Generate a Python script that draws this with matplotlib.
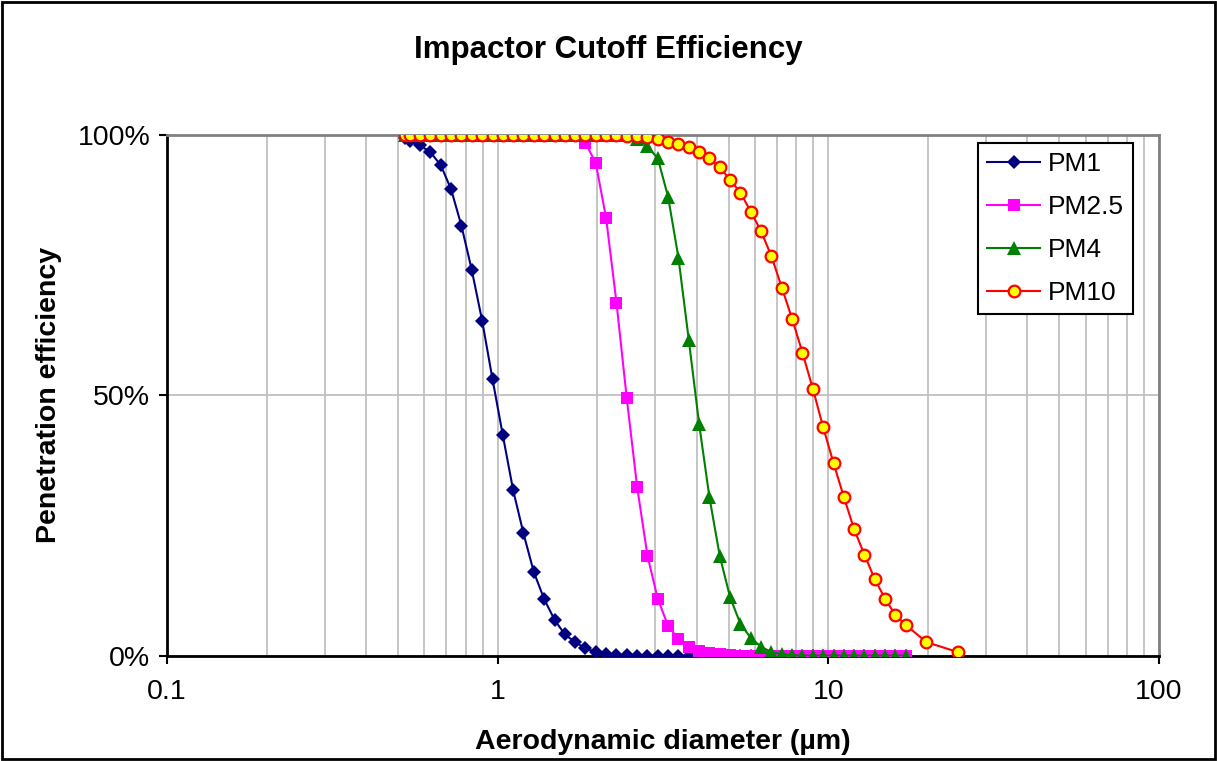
import numpy as np
import matplotlib
matplotlib.use('Agg')
from matplotlib import pyplot as plt
from matplotlib.ticker import PercentFormatter, LogLocator, NullFormatter
from matplotlib.patches import Rectangle

plt.rcParams['font.family'] = ['Liberation Sans', 'DejaVu Sans']

# diametros (canais do APS, um) comuns a todas as curvas
diam = [0.523, 0.542, 0.583, 0.626, 0.673, 0.723, 0.777, 0.835, 0.898, 0.965,
        1.037, 1.114, 1.197, 1.286, 1.382, 1.486, 1.596, 1.715, 1.843, 1.981,
        2.129, 2.288, 2.458, 2.642, 2.839, 3.051, 3.278, 3.523, 3.786, 4.068,
        4.371, 4.698, 5.048, 5.425, 5.829, 6.264, 6.732, 7.234, 7.774, 8.354,
        8.977, 9.647, 10.37, 11.14, 11.97, 12.86, 13.82, 14.86, 15.96, 17.15]

# o PM10 tem dois pontos a mais no fim
diam_pm10 = diam + [19.81, 24.6]

pm1 = [0.994, 0.988, 0.980, 0.967, 0.942, 0.896, 0.826, 0.741, 0.643, 0.531,
       0.423, 0.318, 0.235, 0.161, 0.109, 0.069, 0.041, 0.026, 0.014, 0.007,
       0.004, 0.002, 0.001] + [0.0] * 27

pm25 = [1.0] * 18 + [0.985, 0.946, 0.840, 0.678, 0.494, 0.324, 0.192, 0.109,
                     0.057, 0.032, 0.017, 0.009, 0.005, 0.003, 0.001] + [0.0] * 17

pm4 = [1.0] * 23 + [0.993, 0.978, 0.955, 0.881, 0.764, 0.606, 0.445, 0.304,
                    0.191, 0.112, 0.061, 0.034, 0.017, 0.007, 0.003, 0.001] + [0.0] * 11

pm10 = [1.0] * 22 + [0.999, 0.998, 0.996, 0.992, 0.986, 0.982, 0.976, 0.968,
                     0.955, 0.938, 0.914, 0.889, 0.853, 0.815, 0.767, 0.707,
                     0.647, 0.582, 0.513, 0.439, 0.370, 0.305, 0.243, 0.194,
                     0.147, 0.109, 0.078, 0.059, 0.026, 0.007]

labels = ['PM1', 'PM2.5', 'PM4', 'PM10']

fig = plt.figure(figsize=(12.17, 7.61), dpi=100)
ax = fig.add_axes([0.1372, 0.1384, 0.8151, 0.6842])

# curvas
ax.plot(diam, pm1, color='#000080', marker='D', markersize=7.4, lw=1.5,
        markeredgewidth=0, label=labels[0], zorder=3)
ax.plot(diam, pm25, color='#ff00ff', marker='s', markersize=8.4, lw=1.5,
        markeredgewidth=0, label=labels[1], zorder=4)
ax.plot(diam, pm4, color='#008000', marker='^', markersize=10.5, lw=1.5,
        markeredgewidth=0, label=labels[2], zorder=5)
ax.plot(diam_pm10, pm10, color='#ff0000', marker='o', markersize=8.4, lw=1.5,
        markerfacecolor='#ffff00', markeredgecolor='#ff0000',
        markeredgewidth=1.6, label=labels[3], zorder=6)

# eixos
ax.set_xscale('log')
ax.set_xlim(0.1, 100)
ax.set_ylim(0, 1)
ax.set_yticks([0, 0.5, 1])
ax.yaxis.set_major_formatter(PercentFormatter(1.0, decimals=0))
ax.set_xticks([0.1, 1, 10, 100])
ax.set_xticklabels(['0.1', '1', '10', '100'])
ax.xaxis.set_minor_locator(LogLocator(base=10, subs=np.arange(2, 10)))
ax.xaxis.set_minor_formatter(NullFormatter())
ax.tick_params(axis='both', which='major', direction='out', length=6,
               width=1.5, labelsize=20.5, color='black')
ax.tick_params(axis='x', which='major', pad=11)
ax.tick_params(axis='y', which='major', pad=6)
ax.tick_params(axis='x', which='minor', length=0)

# grade
ax.grid(True, which='both', axis='x', color='#c0c0c0', lw=1.3, zorder=0)
ax.grid(True, which='major', axis='y', color='#c0c0c0', lw=1.3, zorder=0)
ax.set_axisbelow(True)

for s in ['left', 'bottom']:
    ax.spines[s].set_color('black')
    ax.spines[s].set_linewidth(2)
for s in ['top', 'right']:
    ax.spines[s].set_color('#808080')
    ax.spines[s].set_linewidth(2)

ax.set_xlabel('Aerodynamic diameter (µm)', fontsize=20.5, fontweight='bold', labelpad=17)
ax.set_ylabel('Penetration efficiency', fontsize=20.5, fontweight='bold', labelpad=11)
fig.text(0.5, 0.934, 'Impactor Cutoff Efficiency', ha='center', va='center',
         fontsize=22.5, fontweight='bold')

leg = ax.legend(loc='upper right', bbox_to_anchor=(0.974, 0.985), borderaxespad=0,
                fontsize=19, fancybox=False, framealpha=1, edgecolor='black',
                handlelength=2.0, labelspacing=0.72, borderpad=0.35, handletextpad=0.3)
leg.get_frame().set_linewidth(1.5)

# borda da figura
fig.patches.append(Rectangle((0.002, 0.002), 0.996, 0.996, transform=fig.transFigure,
                             fill=False, edgecolor='black', lw=2))

fig.savefig('out.png', dpi=100)
